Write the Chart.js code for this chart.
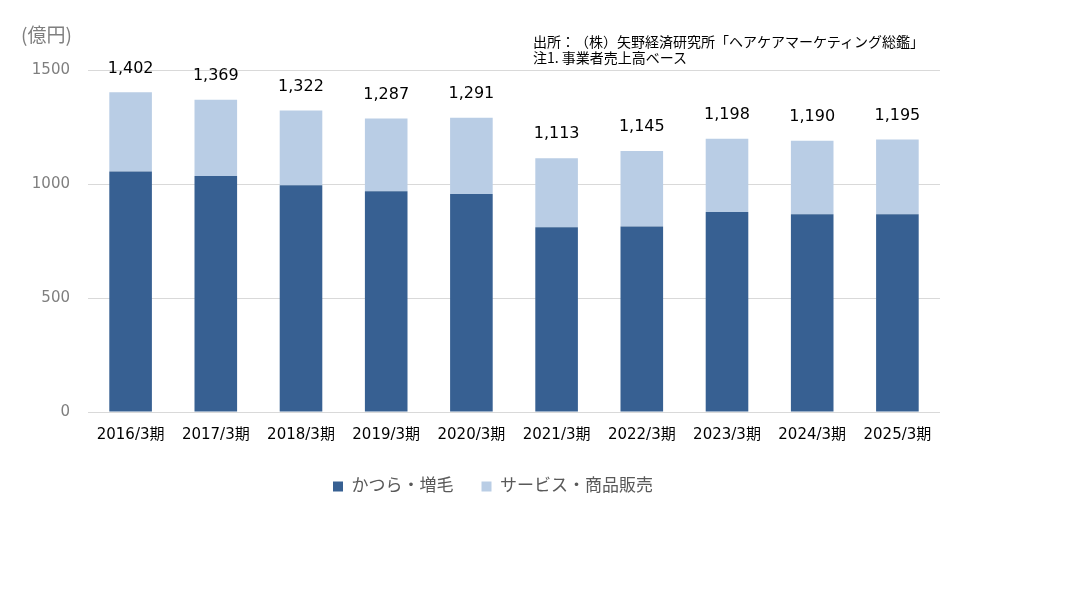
<!DOCTYPE html>
<html>
<head>
<meta charset="utf-8">
<script src="https://cdn.jsdelivr.net/npm/chart.js@4"></script>
<style>
  body { margin: 0; background: #fff; }
  #wrap { position: relative; width: 1080px; height: 597px; }
  .note { position: absolute; font-family: 'Noto Sans CJK JP', sans-serif; white-space: nowrap; text-spacing-trim: space-all; }
  #unit { left: 21px; top: 20px; font-size: 19px; color: #7f7f7f; }
  #source { left: 533px; top: 33px; font-size: 14px; line-height: 16px; color: #000; }
</style>
</head>
<body>
<div id="wrap">
  <canvas id="chart" width="1080" height="597"></canvas>
  <div class="note" id="unit">(億円)</div>
  <div class="note" id="source">出所：（株）矢野経済研究所「ヘアケアマーケティング総鑑」<br>注1. 事業者売上高ベース</div>
</div>
<script>
// Categories and series (億円)
const years = ['2016/3期', '2017/3期', '2018/3期', '2019/3期', '2020/3期',
               '2021/3期', '2022/3期', '2023/3期', '2024/3期', '2025/3期'];
const wigHair = [1055, 1035, 995, 968, 956, 810, 814, 877, 867, 867];
const serviceGoods = [347, 334, 327, 319, 335, 303, 331, 321, 323, 328];
const yTicks = [0, 500, 1000, 1500];

const fontFamily = "'DejaVu Sans', 'Noto Sans CJK JP', sans-serif";

// Draw the total above each stacked bar
const totalLabels = {
    id: 'totalLabels',
    afterDatasetsDraw(chart) {
        const ctx = chart.ctx;
        const top = chart.getDatasetMeta(1);
        ctx.save();
        ctx.font = '16px ' + fontFamily;
        ctx.fillStyle = '#000';
        ctx.textAlign = 'center';
        ctx.textBaseline = 'middle';
        top.data.forEach((bar, i) => {
            const total = wigHair[i] + serviceGoods[i];
            ctx.fillText(total.toLocaleString('en-US'), bar.x, bar.y - 24);
        });
        ctx.restore();
    }
};

const ctx = document.getElementById('chart').getContext('2d');
const chart = new Chart(ctx, {
    type: 'bar',
    data: {
        labels: years,
        datasets: [
            { label: 'かつら・増毛', data: wigHair, backgroundColor: '#376092', categoryPercentage: 1, barPercentage: 0.5 },
            { label: 'サービス・商品販売', data: serviceGoods, backgroundColor: '#b9cde5', categoryPercentage: 1, barPercentage: 0.5 },
        ],
    },
    options: {
        responsive: false,
        animation: false,
        layout: { padding: { left: 0, right: 94, top: 70, bottom: 92 } },
        plugins: {
            legend: {
                position: 'bottom',
                labels: {
                    boxWidth: 10, boxHeight: 10, padding: 28,
                    color: '#595959',
                    font: { size: 17, family: fontFamily },
                },
            },
            tooltip: { enabled: false },
        },
        scales: {
            x: {
                stacked: true,
                grid: { display: false },
                border: { display: false },
                ticks: { color: '#000', font: { size: 15, family: fontFamily }, padding: 6 },
            },
            y: {
                stacked: true,
                min: 0, max: 1500,
                afterBuildTicks: (axis) => { axis.ticks = yTicks.map(v => ({ value: v })); },
                afterFit: (axis) => { axis.width = 88; },
                grid: { color: '#d9d9d9', drawTicks: false },
                border: { display: false },
                ticks: {
                    color: '#7f7f7f', padding: 18,
                    font: { size: 15, family: fontFamily },
                    callback: (v) => String(v),
                },
            },
            // empty right-hand spacer so the legend centres where it does in the original
            spacer: {
                type: 'linear',
                position: 'right',
                grid: { display: false },
                border: { display: false },
                ticks: { display: false },
                afterFit: (axis) => { axis.width = 46; },
            },
        },
    },
    plugins: [totalLabels],
});
</script>
</body>
</html>
